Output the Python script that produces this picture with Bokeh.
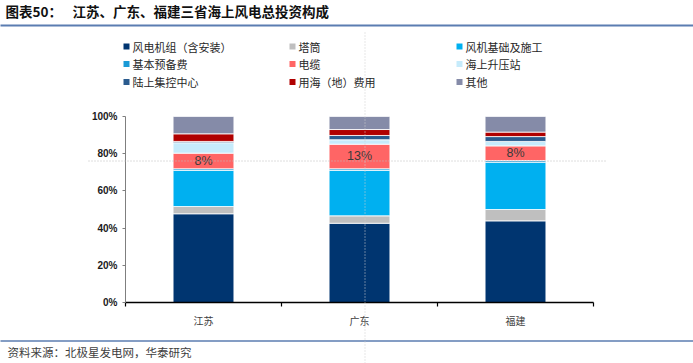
from bokeh.plotting import figure
from bokeh.models import (Range1d, FixedTicker, NumeralTickFormatter, ColumnDataSource)
from bokeh.core.properties import value
from bokeh.embed import file_html
from bokeh.resources import INLINE

# ---------------- data ----------------
provinces = ["江苏", "广东", "福建"]
series_names = ["风电机组（含安装）", "塔筒", "风机基础及施工",
                "基本预备费", "电缆", "海上升压站",
                "陆上集控中心", "用海（地）费用", "其他"]
turbine = [47.7, 42.6, 43.9]
tower = [3.9, 4.0, 6.1]
foundation = [19.4, 24.4, 25.4]
reserve = [0.9, 0.9, 0.9]
cable = [8.4, 13.2, 7.9]
substation = [5.6, 2.4, 2.4]
onshore = [0.7, 2.3, 2.6]
sea_use = [4.1, 3.2, 2.4]
other = [9.3, 7.0, 8.4]
y_ticks = [0, 0.2, 0.4, 0.6, 0.8, 1.0]

colors = ["#003570", "#bfbfbf", "#00b0f0",
          "#1a9ad6", "#ff6565", "#c6ebfb",
          "#2a5b8e", "#b00000", "#858ba8"]

series = [turbine, tower, foundation, reserve, cable, substation,
          onshore, sea_use, other]
keys = ["s%d" % i for i in range(len(series))]

# ---------------- geometry (page pixels) ----------------
W, H = 693, 363
FX0, FX1 = 125, 593   # frame left/right on page
FY1, FY0 = 116, 302   # frame top/bottom on page

def dx(px):
    return (px - FX0) / (FX1 - FX0) * len(provinces)

def dy(py):
    return (FY0 - py) / (FY0 - FY1)

p = figure(width=W, height=H, output_backend="svg", toolbar_location=None,
           x_range=Range1d(0, len(provinces)), y_range=Range1d(0, 1),
           min_border_left=FX0, min_border_right=W - FX1,
           min_border_top=FY1, min_border_bottom=H - FY0)
p.title.visible = False
p.grid.visible = False
p.outline_line_color = None
p.background_fill_color = "white"
p.border_fill_color = "white"

xs = [i + 0.5 for i in range(len(provinces))]
data = {"x": xs}
for k, s in zip(keys, series):
    data[k] = [v / 100 for v in s]
source = ColumnDataSource(data)

renderers = p.vbar_stack(keys, x="x", width=0.39, source=source,
                         fill_color=colors, line_color="white", line_width=0.8)

# percentage labels on cable segment
bottoms = [(turbine[i] + tower[i] + foundation[i] + reserve[i]) / 100 for i in range(3)]
mids = [bottoms[i] + cable[i] / 200 for i in range(3)]
labels = ["%d%%" % round(c) for c in cable]
p.text(x=xs, y=mids, text=labels, text_font=value("Liberation Sans"),
       text_font_size="12.5px", text_align="center", text_baseline="middle",
       text_color="#3a3a3a")

# ---------------- axes ----------------
xa = p.xaxis[0]
xa.ticker = FixedTicker(ticks=xs, minor_ticks=list(range(len(provinces) + 1)))
xa.major_label_overrides = {x: n for x, n in zip(xs, provinces)}
xa.major_tick_in = 0
xa.major_tick_out = 0
xa.minor_tick_in = 0
xa.minor_tick_out = 4
xa.minor_tick_line_color = "black"
xa.minor_tick_line_width = 1.2
xa.axis_line_color = "black"
xa.axis_line_width = 1.5
xa.major_label_standoff = 6
xa.major_label_text_font = "Noto Sans CJK SC"
xa.major_label_text_font_size = "10px"
xa.major_label_text_color = "#404040"

ya = p.yaxis[0]
ya.ticker = FixedTicker(ticks=y_ticks)
ya.formatter = NumeralTickFormatter(format="0%")
ya.major_tick_in = 0
ya.major_tick_out = 3
ya.minor_tick_out = 0
ya.minor_tick_in = 0
ya.axis_line_color = "#7f7f7f"
ya.major_tick_line_color = "#7f7f7f"
ya.major_label_standoff = 5
ya.major_label_text_font = "Liberation Sans"
ya.major_label_text_font_style = "bold"
ya.major_label_text_font_size = "10px"
ya.major_label_text_color = "#1a1a1a"

# ---------------- legend (3 x 3 grid, drawn outside the frame) ----------------
col_x = [123, 289, 456]
row_y = [46, 63.5, 81.5]
lg_x, lg_y, lg_t = [], [], []
for i, name in enumerate(series_names):
    r, c = divmod(i, 3)
    lg_x.append(col_x[c])
    lg_y.append(row_y[r])
    lg_t.append(name)
    # legend swatch: short thick line segment (not culled outside the frame)
    p.line(x=[dx(col_x[c]), dx(col_x[c] + 6)], y=[dy(row_y[r])] * 2,
           line_color=colors[i], line_width=6, line_cap="butt", level="overlay")
p.text(x=[dx(v + 9) for v in lg_x], y=[dy(v) for v in lg_y], text=lg_t,
       text_font=value("Noto Sans CJK SC"), text_font_size="11px",
       text_color="#262626", text_baseline="middle", text_align="left",
       level="overlay")

# ---------------- decorations ----------------
line_blue = "#5b7db1"
p.line(x=[dx(0), dx(W)], y=[dy(25)] * 2, line_color=line_blue, line_width=2,
       level="overlay")
p.line(x=[dx(0), dx(W)], y=[dy(340.5)] * 2, line_color=line_blue, line_width=1.5,
       level="overlay")
p.line(x=[dx(88), dx(606)], y=[dy(160.5)] * 2, line_color="#bdbdbd", line_width=1,
       line_dash="1 2", level="overlay")
p.line(x=[dx(364.5)] * 2, y=[dy(32), dy(H)], line_color="#cfcfcf", line_width=1,
       line_dash="1 2", level="overlay")

# title and source note
p.text(x=[dx(5), dx(72)], y=[dy(10.5)] * 2,
       text=["图表50：", "江苏、广东、福建三省海上风电总投资构成"],
       text_font=value("Noto Sans CJK SC"), text_font_size="13.5px",
       text_font_style="bold", text_color="#111111", text_baseline="middle",
       text_align="left", level="overlay")
p.text(x=[dx(7)], y=[dy(351.5)], text=["资料来源：北极星发电网，华泰研究"],
       text_font=value("Noto Sans CJK SC"), text_font_size="11.5px",
       text_color="#404040", text_baseline="middle", text_align="left",
       level="overlay")

open("out.html", "w").write(file_html(p, INLINE))
